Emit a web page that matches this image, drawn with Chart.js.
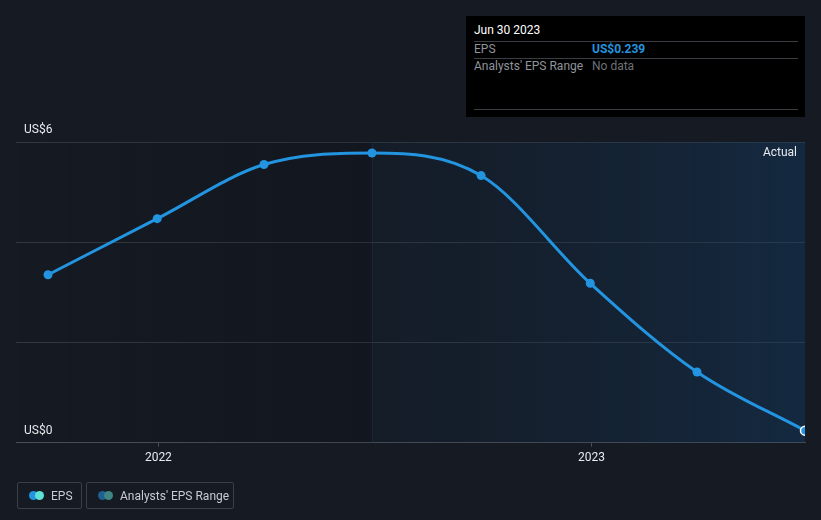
<!DOCTYPE html>
<html>
<head>
<meta charset="utf-8">
<script src="https://cdn.jsdelivr.net/npm/chart.js@4.4.0/dist/chart.umd.min.js"></script>
<style>
  body { margin: 0; background: #151a23; font-family: Roboto, "Noto Sans", sans-serif; }
  #wrap { position: relative; width: 821px; height: 520px; }
  #epsChart { position: absolute; left: 0; top: 0; }
  .tip { position: absolute; left: 466px; top: 16px; width: 339px; height: 101px; background: #000; font-size: 12px; }
  .tip .row { position: absolute; left: 8px; right: 7px; border-bottom: 1px solid #3a3d42; }
  .tip span { position: absolute; }
  .legend { position: absolute; top: 482px; height: 27px; border: 1px solid #3b4048; border-radius: 2px; box-sizing: border-box; color: #c8cbd0; font-size: 12px; }
  .dot { position: absolute; top: 8px; width: 9px; height: 9px; border-radius: 50%; }
</style>
</head>
<body>
<div id="wrap">
  <canvas id="epsChart" width="821" height="520"></canvas>
  <div class="tip">
    <div class="row" style="top:0;height:25px"><span style="left:0;top:7px;color:#fff">Jun 30 2023</span></div>
    <div class="row" style="top:25px;height:17px"><span style="left:0;top:1px;color:#8f949b">EPS</span><span style="left:118px;top:1px;color:#2394df;font-weight:bold">US$0.239</span></div>
    <div class="row" style="top:42px;height:51px"><span style="left:0;top:1px;color:#8f949b">Analysts' EPS Range</span><span style="left:118px;top:1px;color:#6d7278">No data</span></div>
  </div>
  <div class="legend" style="left:17px;width:65px">
    <div class="dot" style="left:11px;background:#2394df"></div>
    <div class="dot" style="left:17px;background:#5fe0d4"></div>
    <span style="position:absolute;left:33px;top:6px">EPS</span>
  </div>
  <div class="legend" style="left:86px;width:148px">
    <div class="dot" style="left:11px;background:#1f5f92"></div>
    <div class="dot" style="left:17px;background:#3f8584"></div>
    <span style="position:absolute;left:33px;top:6px">Analysts' EPS Range</span>
  </div>
</div>
<script>
/* global Chart */

let dates = [
  "2021-09-30", "2021-12-31", "2022-03-31", "2022-06-30",
  "2022-09-30", "2022-12-31", "2023-03-31", "2023-06-30",
];
let eps = [3.35, 4.47, 5.55, 5.78, 5.33, 3.18, 1.41, 0.239];
let yTicks = [0, 2, 4, 6];
let yearTicks = ["2022-01-01", "2023-01-01"];
let xStart = "2021-09-03";
let actualFrom = "2022-06-30";

function toDay(s) {
  return Date.parse(s + "T00:00:00Z") / 864e5;
}

let points = dates.map((d, i) => ({ x: toDay(d), y: eps[i] }));

// shaded past / actual areas behind the line
let shading = {
  id: "shading",
  beforeDatasetsDraw(chart) {
    let { ctx, chartArea: a, scales } = chart;
    let xs = scales.x.getPixelForValue(toDay(actualFrom));
    ctx.save();
    let g1 = ctx.createLinearGradient(a.left, 0, xs, 0);
    g1.addColorStop(0, "rgba(10,12,18,0)");
    g1.addColorStop(1, "rgba(10,12,18,0.2)");
    ctx.fillStyle = g1;
    ctx.fillRect(a.left, a.top, xs - a.left, a.bottom - a.top);
    let g2 = ctx.createLinearGradient(xs, 0, a.right, 0);
    g2.addColorStop(0, "rgba(20,40,60,0.2)");
    g2.addColorStop(1, "rgba(20,60,100,0.45)");
    ctx.fillStyle = g2;
    ctx.fillRect(xs, a.top, a.right - xs, a.bottom - a.top);
    ctx.strokeStyle = "rgba(30,50,72,0.5)";
    ctx.lineWidth = 1;
    ctx.beginPath();
    ctx.moveTo(Math.round(xs) + 0.5, a.top);
    ctx.lineTo(Math.round(xs) + 0.5, a.bottom);
    ctx.stroke();
    ctx.fillStyle = "#e8eaed";
    ctx.font = "12px Roboto";
    ctx.textAlign = "right";
    ctx.textBaseline = "middle";
    ctx.fillText("Actual", a.right - 8, a.top + 11);
    ctx.restore();
  },
};

var ctx = document.getElementById("epsChart").getContext("2d");
var epsChart = new Chart(ctx, {
  type: "line",
  data: {
    datasets: [
      {
        label: "EPS",
        data: points,
        borderColor: "#2394df",
        backgroundColor: "#2394df",
        borderWidth: 3,
        cubicInterpolationMode: "monotone",
        pointRadius: 4.5,
        pointBorderWidth: [0, 0, 0, 0, 0, 0, 0, 1.5],
        pointBorderColor: "#ffffff",
        pointBackgroundColor: "#2394df",
        clip: { left: 10, top: 10, bottom: 10, right: 0 },
      },
    ],
  },
  options: {
    responsive: false,
    animation: false,
    layout: { padding: { left: 0, right: 16, top: 142, bottom: 51 } },
    plugins: { legend: { display: false }, tooltip: { enabled: false } },
    scales: {
      x: {
        type: "linear",
        min: toDay(xStart),
        max: toDay(dates[dates.length - 1]),
        afterBuildTicks(axis) {
          axis.ticks = yearTicks.map((t) => ({ value: toDay(t) }));
        },
        ticks: {
          color: "#e8eaed",
          font: { family: "Roboto", size: 12 },
          padding: 4,
          callback: (v) => new Date(v * 864e5).getUTCFullYear(),
        },
        grid: { drawOnChartArea: false, tickLength: 4, tickColor: "#4a4f57" },
        border: { color: "#4a4f57" },
      },
      y: {
        min: 0,
        max: 6,
        afterBuildTicks(axis) {
          axis.ticks = yTicks.map((t) => ({ value: t }));
        },
        ticks: {
          mirror: true,
          padding: 8,
          labelOffset: -12,
          color: "#e8eaed",
          font: { family: "Roboto", size: 12 },
          callback: (v) => (v === 0 || v === 6 ? "US$" + v : ""),
        },
        grid: { color: "#33383f", drawTicks: false },
        border: { display: false },
      },
    },
  },
  plugins: [shading],
});
</script>
</body>
</html>
